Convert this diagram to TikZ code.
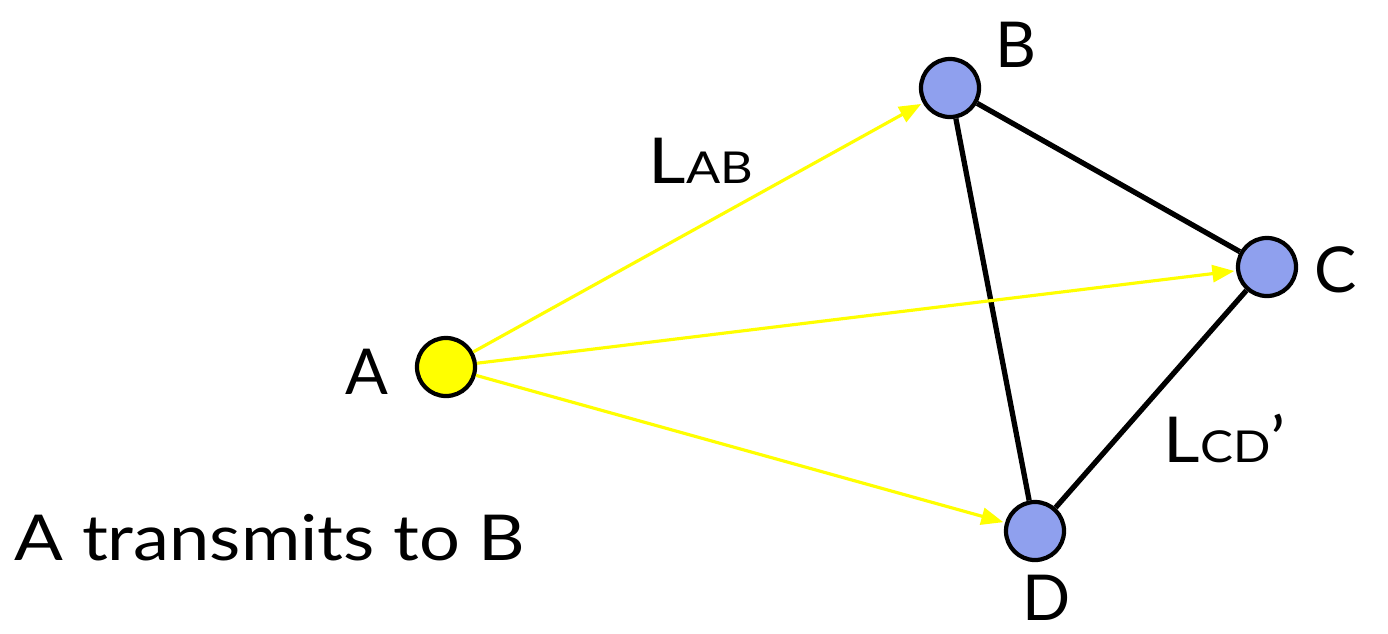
\documentclass[tikz,border=0pt]{standalone}
\usepackage{fontspec}
\setmainfont{Lato}
\usetikzlibrary{arrows.meta}
\definecolor{nodeblue}{HTML}{8FA0EE}
\definecolor{yel}{HTML}{FFFF00}
\begin{document}
\begin{tikzpicture}[x=0.01cm,y=-0.01cm,
  station/.style={circle,draw=black,line width=1.2pt,minimum size=0.58cm,inner sep=0pt},
  link/.style={line width=1.5pt,black},
  tx/.style={yel,line width=0.9pt,-{Triangle[length=0.22cm,width=0.17cm]},shorten >=0.5pt},
  lbl/.style={font=\fontsize{18}{20}\selectfont,inner sep=0pt}]
\useasboundingbox (0,0) rectangle (1388,633);
\node[station,fill=yel] (A) at (446,367) {};
\node[station,fill=nodeblue] (B) at (950,88) {};
\node[station,fill=nodeblue] (C) at (1267,267) {};
\node[station,fill=nodeblue] (D) at (1035,531) {};
\draw[link] (B) -- (C);
\draw[link] (B) -- (D);
\draw[link] (C) -- (D);
\draw[tx] (A) -- (B);
\draw[tx] (A) -- (C);
\draw[tx] (A) -- (D);
\node[lbl] (lB) at (1016,45) {B};
\node[lbl] (lC) at (1336,270) {C};
\node[lbl] (lA) at (367,372) {A};
\node[lbl] (lD) at (1047,598) {D};
\node[lbl,anchor=base west] (lab) at (648,183) {\scalebox{1.15}[1]{L{\fontsize{12.5}{14}\selectfont AB}}};
\node[lbl,anchor=base west] (lcd) at (1163,462) {\scalebox{1.12}[1]{L{\fontsize{12.5}{14}\selectfont CD}’}};
\node[lbl,anchor=base west] (cap) at (14,560) {\scalebox{1.14}[1]{A transmits to B}};
\end{tikzpicture}
\end{document}
